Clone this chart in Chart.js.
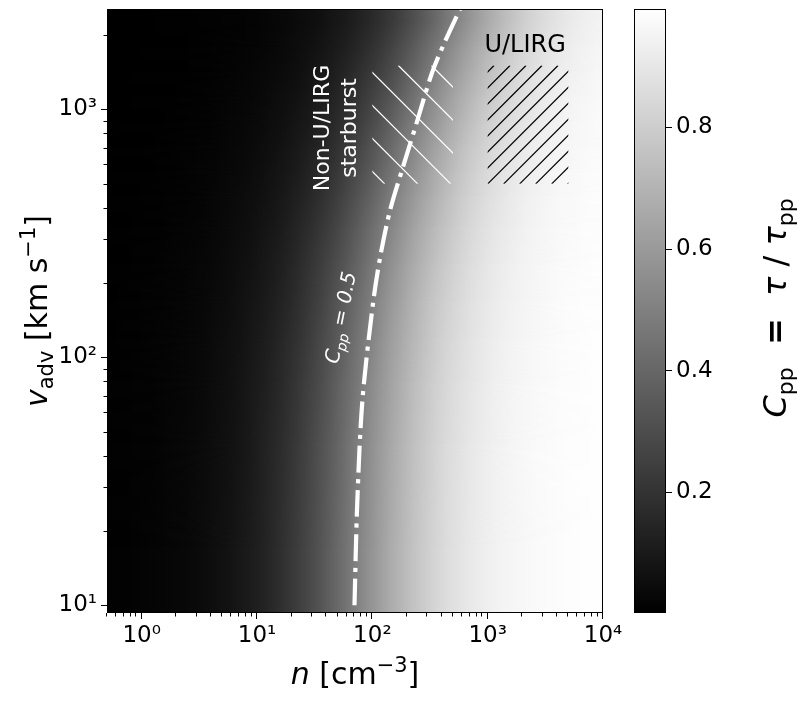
<!DOCTYPE html>
<html>
<head>
<meta charset="utf-8">
<title>C_pp map</title>
<script src="https://cdn.jsdelivr.net/npm/chart.js@4.4.1/dist/chart.umd.min.js"></script>
<style>
html, body { margin: 0; padding: 0; background: #fff; }
#wrap { position: relative; width: 809px; height: 702px; }
#wrap canvas { position: absolute; left: 0; top: 0; }
</style>
</head>
<body>
<div id="wrap">
  <canvas id="main" width="809" height="702"></canvas>
  <canvas id="cbar" width="809" height="702"></canvas>
</div>
<script>
// grid cell edges (n in cm^-3, v_adv in km/s)
const nEdges = [0.501, 0.631, 0.794, 1, 1.259, 1.585, 1.995, 2.512, 3.162, 3.981, 5.012, 6.31, 7.943,
  10, 12.59, 15.85, 19.95, 25.12, 31.62, 39.81, 50.12, 63.1, 79.43, 100, 125.9, 158.5, 199.5, 251.2,
  316.2, 398.1, 501.2, 631, 794.3, 1000, 1259, 1585, 1995, 2512, 3162, 3981, 5012, 6310, 7943, 10000];
const vEdges = [9.33, 31.6, 63.1, 100, 141.3, 199.5, 281.8, 398.1, 501.2, 631, 794.3, 1000, 1259, 1585, 1995, 2570];

// C_pp = tau / tau_pp, one row per v band (bottom to top), one value per n column
const cpp = [
  [0.008,0.010,0.012,0.015,0.019,0.024,0.030,0.038,0.047,0.058,0.072,0.090,0.110,0.135,0.164,0.198,0.237,0.281,0.330,0.383,0.439,0.496,0.553,0.609,0.662,0.712,0.757,0.796,0.831,0.861,0.886,0.908,0.925,0.940,0.952,0.961,0.969,0.975,0.980,0.984,0.987,0.990,0.992],
  [0.007,0.009,0.011,0.014,0.018,0.023,0.028,0.035,0.044,0.055,0.068,0.084,0.104,0.128,0.156,0.188,0.226,0.269,0.316,0.368,0.423,0.480,0.537,0.594,0.648,0.699,0.745,0.786,0.822,0.853,0.880,0.902,0.921,0.936,0.949,0.959,0.967,0.974,0.979,0.983,0.987,0.989,0.991],
  [0.007,0.008,0.011,0.013,0.017,0.021,0.026,0.033,0.041,0.051,0.063,0.078,0.097,0.119,0.145,0.176,0.212,0.253,0.298,0.349,0.403,0.459,0.517,0.574,0.629,0.681,0.729,0.772,0.810,0.843,0.871,0.895,0.914,0.931,0.944,0.955,0.964,0.971,0.977,0.982,0.985,0.988,0.991],
  [0.006,0.008,0.010,0.012,0.015,0.019,0.024,0.030,0.037,0.047,0.058,0.072,0.089,0.110,0.134,0.163,0.197,0.236,0.280,0.329,0.381,0.437,0.494,0.552,0.608,0.661,0.711,0.755,0.796,0.830,0.860,0.886,0.907,0.925,0.939,0.951,0.961,0.969,0.975,0.980,0.984,0.987,0.990],
  [0.006,0.007,0.009,0.011,0.014,0.017,0.022,0.027,0.034,0.042,0.053,0.066,0.081,0.100,0.123,0.150,0.182,0.218,0.260,0.307,0.358,0.413,0.469,0.527,0.584,0.638,0.690,0.737,0.779,0.816,0.848,0.875,0.898,0.918,0.933,0.946,0.957,0.965,0.972,0.978,0.982,0.986,0.989],
  [0.005,0.006,0.008,0.010,0.012,0.015,0.019,0.024,0.030,0.038,0.047,0.058,0.072,0.089,0.110,0.135,0.164,0.198,0.237,0.281,0.330,0.383,0.438,0.496,0.553,0.609,0.662,0.712,0.757,0.796,0.831,0.861,0.886,0.908,0.925,0.940,0.951,0.961,0.969,0.975,0.980,0.984,0.987],
  [0.004,0.005,0.007,0.008,0.010,0.013,0.017,0.021,0.026,0.032,0.040,0.050,0.063,0.078,0.096,0.118,0.144,0.175,0.210,0.251,0.297,0.347,0.401,0.457,0.515,0.572,0.627,0.679,0.727,0.770,0.808,0.842,0.870,0.894,0.914,0.930,0.944,0.955,0.964,0.971,0.977,0.982,0.985],
  [0.004,0.005,0.006,0.007,0.009,0.011,0.014,0.018,0.022,0.028,0.035,0.044,0.054,0.067,0.083,0.103,0.126,0.154,0.186,0.223,0.266,0.313,0.365,0.420,0.477,0.534,0.591,0.645,0.696,0.742,0.784,0.820,0.852,0.878,0.901,0.920,0.935,0.948,0.958,0.966,0.973,0.979,0.983],
  [0.003,0.004,0.005,0.006,0.008,0.010,0.012,0.016,0.020,0.025,0.031,0.038,0.048,0.059,0.074,0.091,0.112,0.137,0.167,0.201,0.240,0.285,0.334,0.387,0.443,0.500,0.558,0.613,0.666,0.716,0.760,0.799,0.834,0.863,0.888,0.909,0.927,0.941,0.952,0.962,0.969,0.976,0.980],
  [0.003,0.003,0.004,0.005,0.007,0.009,0.011,0.013,0.017,0.021,0.027,0.033,0.041,0.052,0.064,0.079,0.098,0.120,0.147,0.178,0.214,0.256,0.302,0.353,0.407,0.463,0.521,0.578,0.633,0.684,0.732,0.775,0.812,0.845,0.873,0.896,0.916,0.932,0.945,0.956,0.965,0.972,0.977],
  [0.002,0.003,0.004,0.005,0.006,0.007,0.009,0.012,0.014,0.018,0.023,0.028,0.036,0.044,0.055,0.069,0.085,0.104,0.128,0.156,0.189,0.227,0.269,0.317,0.369,0.424,0.481,0.538,0.595,0.649,0.699,0.745,0.787,0.823,0.854,0.880,0.903,0.921,0.936,0.949,0.959,0.967,0.974],
  [0.002,0.002,0.003,0.004,0.005,0.006,0.008,0.010,0.012,0.015,0.019,0.024,0.030,0.038,0.047,0.058,0.072,0.089,0.110,0.135,0.164,0.198,0.237,0.281,0.330,0.383,0.438,0.496,0.553,0.609,0.662,0.712,0.757,0.796,0.831,0.861,0.886,0.908,0.925,0.940,0.951,0.961,0.969],
  [0.002,0.002,0.003,0.003,0.004,0.005,0.006,0.008,0.010,0.013,0.016,0.020,0.025,0.032,0.040,0.049,0.061,0.076,0.094,0.115,0.141,0.171,0.206,0.246,0.291,0.341,0.395,0.451,0.508,0.565,0.621,0.673,0.722,0.766,0.804,0.838,0.867,0.891,0.912,0.929,0.942,0.954,0.963],
  [0.001,0.002,0.002,0.003,0.003,0.004,0.005,0.007,0.008,0.011,0.013,0.017,0.021,0.026,0.033,0.041,0.051,0.064,0.079,0.097,0.119,0.146,0.177,0.213,0.254,0.300,0.351,0.405,0.461,0.519,0.576,0.631,0.682,0.730,0.773,0.811,0.844,0.872,0.895,0.915,0.931,0.945,0.956],
  [0.001,0.001,0.002,0.002,0.003,0.003,0.004,0.005,0.007,0.009,0.011,0.014,0.017,0.022,0.027,0.034,0.042,0.052,0.065,0.081,0.099,0.122,0.149,0.180,0.217,0.259,0.305,0.356,0.410,0.467,0.525,0.581,0.636,0.688,0.735,0.777,0.815,0.847,0.874,0.898,0.917,0.933,0.946]
];

// C_pp = 0.5 contour
const contourN = [70, 74, 82, 101, 117, 143, 185, 240, 331, 429, 578];
const contourV = [10, 26, 67, 163, 254, 394, 588, 869, 1412, 1884, 2540];

// hatched boxes
const starburstN = [100, 500];
const starburstV = [500, 1500];
const ulirgN = [1000, 5000];
const ulirgV = [500, 1500];

// axes
const xRange = [0.5, 10000];
const yRange = [9.31, 2535];
const xMajor = [1, 10, 100, 1000, 10000];
const yMajor = [10, 100, 1000];
const cbRange = [0.001, 0.995];
const cbTicks = [0.2, 0.4, 0.6, 0.8];

const FONT = '"DejaVu Sans", sans-serif';
const SUP = { '0': '\u2070', '1': '\u00b9', '2': '\u00b2', '3': '\u00b3', '4': '\u2074' };

function grey(c) {
    const t = Math.max(0, Math.min(1, (c - cbRange[0]) / (cbRange[1] - cbRange[0])));
    const g = Math.round(255 * t);
    return `rgb(${g},${g},${g})`;
}

function powLabel(v) {
    return '10' + SUP[String(Math.round(Math.log10(v)))];
}

// majors plus 2..9 minors inside the range
function logTicks(range) {
    const out = [];
    for (let d = -1; d <= 4; d++) {
        for (let m = 1; m <= 9; m++) {
            const v = m * Math.pow(10, d);
            if (v >= range[0] && v <= range[1]) out.push({ value: v, major: m === 1 });
        }
    }
    return out;
}
const xTicks = logTicks(xRange);
const yTicks = logTicks(yRange);

// no extra room for edge labels, keep the plot box where it is
function noPad(s) {
    s.paddingTop = 0;
    s.paddingBottom = 0;
    s.paddingLeft = 0;
    s.paddingRight = 0;
}

// text made of pieces: [text, size, style, dy]; (cx, cy) = middle of baseline
function richText(ctx, parts, cx, cy, angle, color) {
    ctx.save();
    ctx.translate(cx, cy);
    ctx.rotate(angle || 0);
    ctx.fillStyle = color || '#000';
    ctx.textBaseline = 'alphabetic';
    ctx.textAlign = 'left';
    let w = 0;
    const ws = parts.map(p => {
        ctx.font = `${p[2] || ''} ${p[1]}px ${FONT}`;
        const m = ctx.measureText(p[0]).width;
        w += m;
        return m;
    });
    let xx = -w / 2;
    parts.forEach((p, i) => {
        ctx.font = `${p[2] || ''} ${p[1]}px ${FONT}`;
        ctx.fillText(p[0], xx, p[3] || 0);
        xx += ws[i];
    });
    ctx.restore();
}

function hatch(ctx, x, y, nr, vr, color, dir, step, phase) {
    const l = x.getPixelForValue(nr[0]), r = x.getPixelForValue(nr[1]);
    const t = y.getPixelForValue(vr[1]), b = y.getPixelForValue(vr[0]);
    const h = b - t;
    ctx.save();
    ctx.beginPath();
    ctx.rect(l, t, r - l, h);
    ctx.clip();
    ctx.strokeStyle = color;
    ctx.lineWidth = 1.2;
    ctx.beginPath();
    for (let s = phase - Math.ceil(h / step) * step; s < r - l + h; s += step) {
        if (dir > 0) {
            ctx.moveTo(l + s, b);
            ctx.lineTo(l + s + h, t);
        } else {
            ctx.moveTo(l + s, t);
            ctx.lineTo(l + s + h, b);
        }
    }
    ctx.stroke();
    ctx.restore();
}

// horizontal shading of one row, stops at the column centres
function rowGradient(ctx, x, row) {
    const xl = x.getPixelForValue(nEdges[0]);
    const xr = x.getPixelForValue(nEdges[nEdges.length - 1]);
    const g = ctx.createLinearGradient(xl, 0, xr, 0);
    row.forEach((c, j) => {
        const xc = (x.getPixelForValue(nEdges[j]) + x.getPixelForValue(nEdges[j + 1])) / 2;
        g.addColorStop((xc - xl) / (xr - xl), grey(c));
    });
    return g;
}

const off = document.createElement('canvas');
off.width = 809;
off.height = 702;

function drawMap(ctx, a, x, y) {
    const octx = off.getContext('2d');
    const w = a.right - a.left;
    const yc = cpp.map((r, i) => Math.round((y.getPixelForValue(vEdges[i]) + y.getPixelForValue(vEdges[i + 1])) / 2));
    const last = cpp.length - 1;
    ctx.fillStyle = rowGradient(ctx, x, cpp[0]);
    ctx.fillRect(a.left, yc[0], w, a.bottom - yc[0] + 1);
    ctx.fillStyle = rowGradient(ctx, x, cpp[last]);
    ctx.fillRect(a.left, a.top - 1, w, yc[last] - a.top + 1);
    for (let i = 0; i < last; i++) {
        const top = yc[i + 1], bot = yc[i];
        ctx.fillStyle = rowGradient(ctx, x, cpp[i]);
        ctx.fillRect(a.left, top, w, bot - top);
        // blend into the next row (gouraud-like shading)
        octx.clearRect(0, 0, off.width, off.height);
        octx.globalCompositeOperation = 'source-over';
        octx.fillStyle = rowGradient(octx, x, cpp[i + 1]);
        octx.fillRect(a.left, top, w, bot - top);
        octx.globalCompositeOperation = 'destination-in';
        const m = octx.createLinearGradient(0, bot, 0, top);
        m.addColorStop(0, 'rgba(0,0,0,0)');
        m.addColorStop(1, 'rgba(0,0,0,1)');
        octx.fillStyle = m;
        octx.fillRect(a.left, top, w, bot - top);
        octx.globalCompositeOperation = 'source-over';
        ctx.drawImage(off, 0, 0);
    }
}

const mainDecor = {
    id: 'mainDecor',
    beforeDatasetsDraw(chart) {
        const { ctx, chartArea: a, scales: { x, y } } = chart;
        ctx.save();
        ctx.beginPath();
        ctx.rect(a.left, a.top, a.right - a.left, a.bottom - a.top);
        ctx.clip();
        drawMap(ctx, a, x, y);
        hatch(ctx, x, y, starburstN, starburstV, '#fff', -1, 33, -7);
        hatch(ctx, x, y, ulirgN, ulirgV, '#000', 1, 16, 0);
        ctx.restore();
    },
    afterDatasetsDraw(chart) {
        const { ctx, chartArea: a, scales: { x, y } } = chart;

        // annotations
        richText(ctx, [['U/LIRG', 24]], x.getPixelForValue(2113), 52, 0, '#000');
        richText(ctx, [['Non-U/LIRG', 22]], 329, 128, -Math.PI / 2, '#fff');
        richText(ctx, [['starburst', 22]], 356, 128, -Math.PI / 2, '#fff');
        richText(ctx, [['C', 20, 'italic'], ['pp', 14, 'italic', 5], [' = 0.5', 20, 'italic']],
            347, 319, -78.7 * Math.PI / 180, '#fff');

        // frame and ticks
        ctx.save();
        ctx.strokeStyle = '#000';
        ctx.lineWidth = 1;
        ctx.strokeRect(Math.round(a.left) + 0.5, Math.round(a.top) + 0.5,
            Math.round(a.right - a.left) - 1, Math.round(a.bottom - a.top) - 1);
        ctx.beginPath();
        xTicks.forEach(t => {
            const px = Math.round(x.getPixelForValue(t.value)) - 0.5;
            ctx.moveTo(px, a.bottom);
            ctx.lineTo(px, a.bottom + (t.major ? 6 : 3.5));
        });
        yTicks.forEach(t => {
            const py = Math.round(y.getPixelForValue(t.value)) + 0.5;
            ctx.moveTo(a.left, py);
            ctx.lineTo(a.left - (t.major ? 6 : 3.5), py);
        });
        ctx.stroke();
        ctx.restore();

        // axis titles
        richText(ctx, [['n', 30, 'italic'], [' [cm', 30], ['\u22123', 21, '', -12], [']', 30]], 355, 684);
        richText(ctx, [['v', 30, 'italic'], ['adv', 21, '', 6], [' [km s', 30], ['\u22121', 21, '', -12], [']', 30]],
            47, 311, -Math.PI / 2);
    }
};

new Chart(document.getElementById('main'), {
    type: 'scatter',
    data: {
        datasets: [{
            data: contourN.map((n, i) => ({ x: n, y: contourV[i] })),
            showLine: true,
            borderColor: '#fff',
            borderWidth: 4.2,
            borderDash: [26.7, 6.7, 4.2, 6.7],
            borderCapStyle: 'butt',
            pointRadius: 0,
            tension: 0.3,
            fill: false
        }]
    },
    options: {
        responsive: false,
        animation: false,
        devicePixelRatio: 1,
        layout: { padding: { top: 9, right: 206, left: 0, bottom: 0 } },
        plugins: { legend: { display: false }, tooltip: { enabled: false } },
        scales: {
            x: {
                type: 'logarithmic',
                min: xRange[0],
                max: xRange[1],
                afterFit: s => { s.height = 89; noPad(s); },
                afterBuildTicks: s => { s.ticks = xTicks.map(t => ({ value: t.value })); },
                ticks: {
                    autoSkip: false, maxRotation: 0, minRotation: 0, padding: 3, color: '#000',
                    font: { family: FONT, size: 23 },
                    callback: v => xMajor.includes(v) ? powLabel(v) : ''
                },
                grid: { drawOnChartArea: false, drawTicks: true, tickLength: 6, color: 'rgba(0,0,0,0)' },
                border: { display: false }
            },
            y: {
                type: 'logarithmic',
                min: yRange[0],
                max: yRange[1],
                afterFit: s => { s.width = 107; noPad(s); },
                afterBuildTicks: s => { s.ticks = yTicks.map(t => ({ value: t.value })); },
                ticks: {
                    autoSkip: false, padding: 4, color: '#000',
                    font: { family: FONT, size: 23 },
                    callback: v => yMajor.includes(v) ? powLabel(v) : ''
                },
                grid: { drawOnChartArea: false, drawTicks: true, tickLength: 6, color: 'rgba(0,0,0,0)' },
                border: { display: false }
            }
        }
    },
    plugins: [mainDecor]
});

const cbDecor = {
    id: 'cbDecor',
    beforeDatasetsDraw(chart) {
        const { ctx, chartArea: a, scales: { y } } = chart;
        const yb = y.getPixelForValue(cbRange[0]), yt = y.getPixelForValue(cbRange[1]);
        const g = ctx.createLinearGradient(0, yb, 0, yt);
        g.addColorStop(0, '#000');
        g.addColorStop(1, '#fff');
        ctx.save();
        ctx.fillStyle = g;
        ctx.fillRect(a.left, yt, a.right - a.left, yb - yt);
        ctx.strokeStyle = '#000';
        ctx.lineWidth = 1;
        ctx.strokeRect(Math.round(a.left) + 0.5, Math.round(a.top) + 0.5,
            Math.round(a.right - a.left) - 1, Math.round(a.bottom - a.top) - 1);
        ctx.restore();

        richText(ctx, [['C', 32, 'italic'], ['pp', 22, '', 7], ['  =  ', 32, 'bold'], ['\u03c4', 32, 'italic'],
            [' / ', 32], ['\u03c4', 32, 'italic'], ['pp', 22, '', 7]], 786, 308, -Math.PI / 2);
    }
};

new Chart(document.getElementById('cbar'), {
    type: 'scatter',
    data: { datasets: [{ data: [] }] },
    options: {
        responsive: false,
        animation: false,
        devicePixelRatio: 1,
        layout: { padding: { top: 9, right: 0, left: 634, bottom: 89 } },
        plugins: { legend: { display: false }, tooltip: { enabled: false } },
        scales: {
            x: { display: false, min: 0, max: 1 },
            y: {
                position: 'right',
                min: cbRange[0],
                max: cbRange[1],
                afterFit: s => { s.width = 143; noPad(s); },
                afterBuildTicks: s => { s.ticks = cbTicks.map(v => ({ value: v })); },
                ticks: {
                    padding: 4, color: '#000',
                    font: { family: FONT, size: 23 },
                    callback: v => v.toFixed(1)
                },
                grid: { drawOnChartArea: false, drawTicks: true, tickLength: 6, color: '#000', lineWidth: 1 },
                border: { display: false }
            }
        }
    },
    plugins: [cbDecor]
});
</script>
</body>
</html>
